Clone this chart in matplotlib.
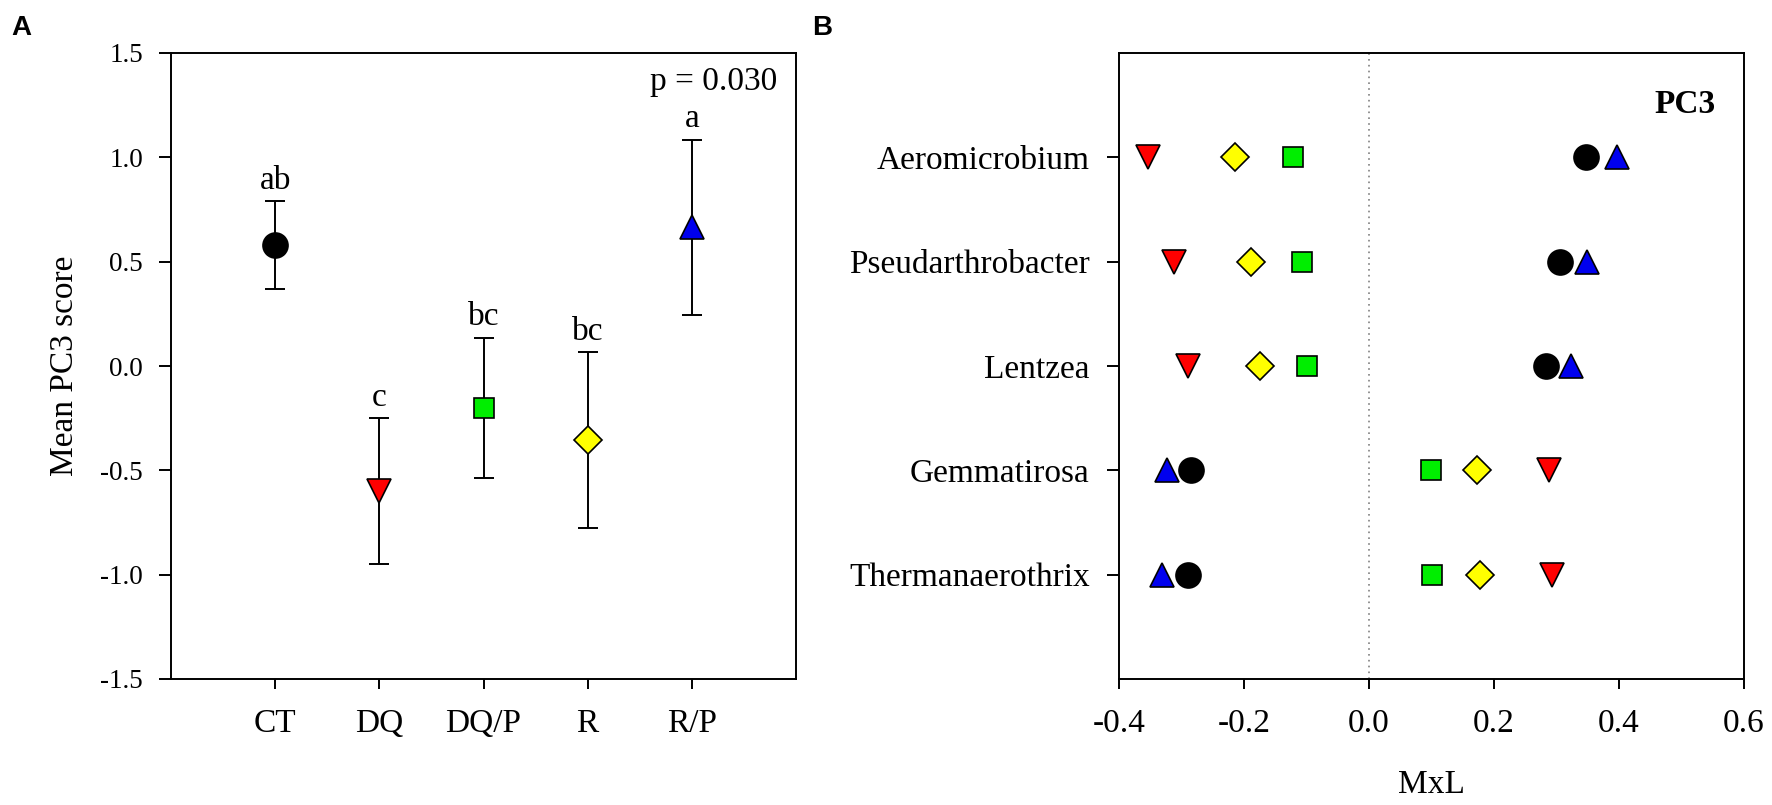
import numpy as np
import matplotlib
matplotlib.use("Agg")
import matplotlib.pyplot as plt

plt.rcParams['font.family'] = ['Liberation Serif', 'DejaVu Serif']

# panel A: mean PC3 score per treatment
treatments = ["CT", "DQ", "DQ/P", "R", "R/P"]
pc3_mean = [0.58, -0.60, -0.20, -0.355, 0.665]
pc3_err = [0.21, 0.35, 0.335, 0.42, 0.42]
letters = ["ab", "c", "bc", "bc", "a"]

# panel B: MxL per genus, one list per treatment
genera = ["Aeromicrobium", "Pseudarthrobacter", "Lentzea", "Gemmatirosa", "Thermanaerothrix"]
mxl_ct = [0.347, 0.306, 0.283, -0.285, -0.29]
mxl_dq = [-0.354, -0.312, -0.289, 0.288, 0.293]
mxl_dqp = [-0.122, -0.107, -0.099, 0.099, 0.10]
mxl_r = [-0.214, -0.189, -0.174, 0.173, 0.177]
mxl_rp = [0.396, 0.349, 0.323, -0.324, -0.332]

styles = {
    "CT": dict(marker="o", color="black", ms=18),
    "DQ": dict(marker="v", color="red", ms=17),
    "DQ/P": dict(marker="s", color="#00ee00", ms=15),
    "R": dict(marker="D", color="yellow", ms=14),
    "R/P": dict(marker="^", color="#0000ee", ms=17),
}

fig = plt.figure(figsize=(17.72, 8.05), dpi=100)
ax1 = fig.add_axes([171 / 1772, 126 / 805, 625 / 1772, 626 / 805])
ax2 = fig.add_axes([1119 / 1772, 126 / 805, 625 / 1772, 626 / 805])

fs = 24
lw = 1.4

# ---- panel A
xpos = np.arange(1, len(treatments) + 1)
for i, t in enumerate(treatments):
    st = styles[t]
    ax1.errorbar(xpos[i], pc3_mean[i], yerr=pc3_err[i], fmt="none",
                 ecolor="black", elinewidth=lw, capsize=7, capthick=lw, zorder=2)
    ax1.plot(xpos[i], pc3_mean[i], linestyle="none", marker=st["marker"],
             ms=st["ms"], mfc=st["color"], mec="black", mew=1.2, zorder=3)
    ax1.text(xpos[i], pc3_mean[i] + pc3_err[i] + 0.06, letters[i],
             ha="center", va="baseline", fontsize=fs)

ax1.set_xlim(0, 6)
ax1.set_ylim(-1.5, 1.5)
ax1.set_xticks(xpos)
ax1.set_xticklabels(treatments)
yt = np.arange(-1.5, 1.51, 0.5)
ax1.set_yticks(yt)
ax1.set_yticklabels(["%.1f" % v for v in yt])
ax1.tick_params(axis="x", direction="out", length=7, width=lw, pad=14, labelsize=fs)
ax1.tick_params(axis="y", direction="out", length=9, width=lw, pad=11, labelsize=19.5)
ax1.set_ylabel("Mean PC3 score", fontsize=24, labelpad=15)
ax1.text(0.97, 0.954, "p = 0.030", transform=ax1.transAxes, ha="right", va="center",
         fontsize=fs)
for s in ax1.spines.values():
    s.set_linewidth(lw)

# ---- panel B
ypos = np.arange(len(genera), 0, -1)
ax2.axvline(0, color="grey", linestyle=(0, (1, 2.5)), linewidth=1.2, zorder=1)
series = [("DQ", mxl_dq), ("R", mxl_r), ("DQ/P", mxl_dqp), ("CT", mxl_ct), ("R/P", mxl_rp)]
for t, vals in series:
    st = styles[t]
    ax2.plot(vals, ypos, linestyle="none", marker=st["marker"], ms=st["ms"],
             mfc=st["color"], mec="black", mew=1.2, zorder=3)

ax2.set_xlim(-0.4, 0.6)
ax2.set_ylim(0, 6)
ax2.set_yticks(ypos)
ax2.set_yticklabels(genera)
xt = np.arange(-0.4, 0.61, 0.2)
ax2.set_xticks(xt)
ax2.set_xticklabels(["%.1f" % v for v in xt])
ax2.tick_params(axis="x", direction="out", length=7, width=lw, pad=14, labelsize=fs)
ax2.tick_params(axis="y", direction="out", length=9, width=lw, pad=12, labelsize=fs)
ax2.set_xlabel("MxL", fontsize=fs, labelpad=22)
ax2.text(0.954, 0.917, "PC3", transform=ax2.transAxes, ha="right", va="center",
         fontsize=fs, fontweight="bold")
for s in ax2.spines.values():
    s.set_linewidth(lw)

fig.text(11 / 1772, 790 / 805, "A", fontsize=20, fontweight="bold",
         family="Liberation Sans", va="top")
fig.text(812 / 1772, 790 / 805, "B", fontsize=20, fontweight="bold",
         family="Liberation Sans", va="top")

fig.savefig("out.png", dpi=100)
